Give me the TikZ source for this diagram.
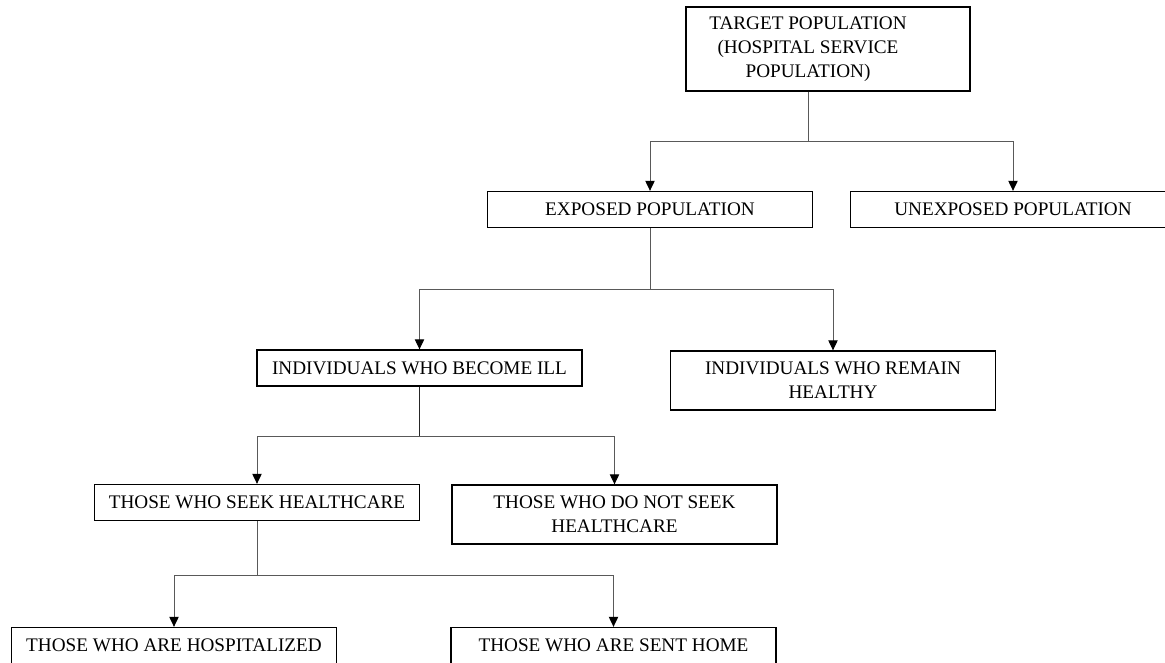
\documentclass[tikz,border=0pt]{standalone}
\usepackage{fontspec}
\setmainfont{Liberation Serif}
\usetikzlibrary{arrows.meta}
\begin{document}
\begin{tikzpicture}[x=0.75pt,y=-0.75pt,
  txt/.style={align=center,inner sep=0pt,font=\fontsize{14.4}{18}\selectfont},
  box/.style={txt,draw=black,line width=1pt,minimum width=243.75pt},
  one/.style={minimum height=27pt},
  two/.style={minimum height=44.25pt},
  conn/.style={draw=black!65,line width=0.75pt},
  arr/.style={conn,-{Triangle[width=7pt,length=7.5pt,color=black]}}]
\useasboundingbox (0,0) rectangle (1165,662);
\clip (0,0) rectangle (1165,662);
% target
\node[box,minimum width=213pt,minimum height=63pt] (t) at (828,49) {};
\node[txt] (tt) at (808,49) {TARGET POPULATION\\(HOSPITAL SERVICE\\POPULATION)};
% level 1
\node[box,one] (exp) at (650,209.5) {EXPOSED POPULATION};
\node[box,one] (unexp) at (1013,209.5) {UNEXPOSED POPULATION};
% level 2
\node[box,one] (ill) at (419.5,368) {INDIVIDUALS WHO BECOME ILL};
\node[box,two] (heal) at (833,380.5) {INDIVIDUALS WHO REMAIN\\HEALTHY};
% level 3
\node[box,one] (seek) at (257,502.5) {THOSE WHO SEEK HEALTHCARE};
\node[box,two] (nots) at (614.5,514.5) {THOSE WHO DO NOT SEEK\\HEALTHCARE};
% level 4
\node[box,one] (hosp) at (174,645.5) {THOSE WHO ARE HOSPITALIZED};
\node[box,one] (home) at (613.5,645.5) {THOSE WHO ARE SENT HOME};
% junctions
\coordinate (j1) at (808,141);
\coordinate (j2) at (650,289);
\coordinate (j3) at (419.5,436);
\coordinate (j4) at (257,575);
% connectors
\draw[conn] (tt |- t.south) -- (j1);
\draw[arr] (j1) -| (exp.north);
\draw[arr] (j1) -| (unexp.north);
\draw[conn] (exp.south) -- (j2);
\draw[arr] (j2) -| (ill.north);
\draw[arr] (j2) -| (heal.north);
\draw[conn,draw=black!85] (ill.south) -- (j3);
\draw[arr] (j3) -| (seek.north);
\draw[arr] (j3) -| (nots.north);
\draw[conn] (seek.south) -- (j4);
\draw[arr] (j4) -| (hosp.north);
\draw[arr] (j4) -| (home.north);
\end{tikzpicture}
\end{document}
